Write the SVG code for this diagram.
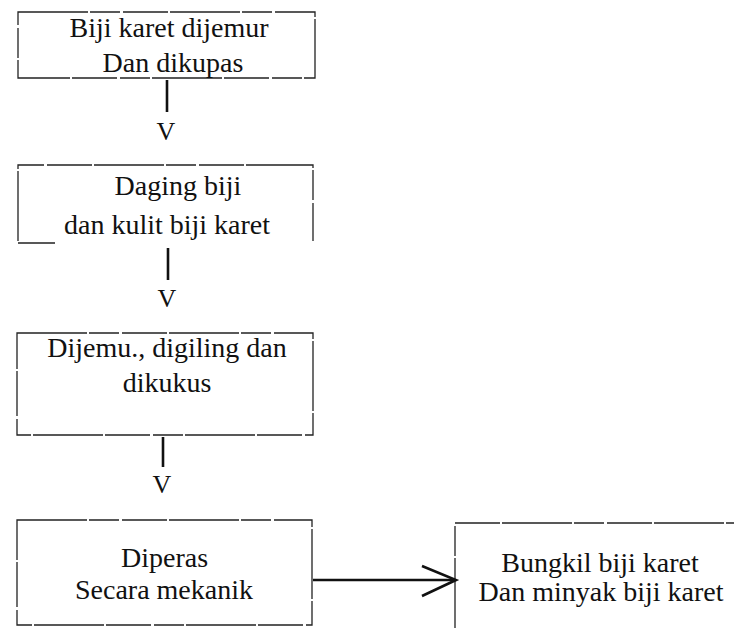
<svg xmlns="http://www.w3.org/2000/svg" width="734" height="628" viewBox="0 0 734 628">
<style>
.bx{fill:none;stroke:#222;stroke-width:1.3;stroke-dasharray:70 2 30 3 45 2}
.t{font-family:'Liberation Serif','DejaVu Serif','Noto Serif',serif;font-size:28px;fill:#111;text-anchor:middle}
.v{font-family:'Liberation Serif','DejaVu Serif','Noto Serif',serif;font-size:26px;fill:#111;text-anchor:middle}
.c{stroke:#111;stroke-width:2.6;fill:none}
</style>
<rect width="734" height="628" fill="#fff"/>
<g id="n1">
<rect class="bx" x="18" y="12" width="297" height="66"/>
<text class="t" x="169" y="37">Biji karet dijemur</text>
<text class="t" x="173" y="72">Dan dikupas</text>
</g>
<g id="n2">
<path class="bx" d="M18 241 V165 H313 V241 M18 243 H55"/>
<text class="t" x="178" y="195">Daging biji</text>
<text class="t" x="167" y="234">dan kulit biji karet</text>
</g>
<g id="n3">
<rect class="bx" x="17" y="333" width="296" height="102"/>
<text class="t" x="167" y="357">Dijemu., digiling dan</text>
<text class="t" x="167" y="392">dikukus</text>
</g>
<g id="n4">
<rect class="bx" x="17" y="520" width="295" height="105"/>
<text class="t" x="164.5" y="567">Diperas</text>
<text class="t" x="164" y="599">Secara mekanik</text>
</g>
<g id="n5">
<path class="bx" d="M455 628 V523 H734"/>
<text class="t" x="600" y="572">Bungkil biji karet</text>
<text class="t" x="601" y="601">Dan minyak biji karet</text>
</g>
<g id="connectors">
<line class="c" x1="167" y1="80" x2="167" y2="112"/>
<text class="v" x="166" y="140">V</text>
<line class="c" x1="168" y1="248" x2="168" y2="280"/>
<text class="v" x="167" y="307">V</text>
<line class="c" x1="163" y1="437" x2="163" y2="467"/>
<text class="v" x="162" y="493">V</text>
<line class="c" x1="313" y1="580" x2="455" y2="580" stroke-width="3"/>
<polyline class="c" points="422,566 456,580 422,596"/>
</g>
</svg>
